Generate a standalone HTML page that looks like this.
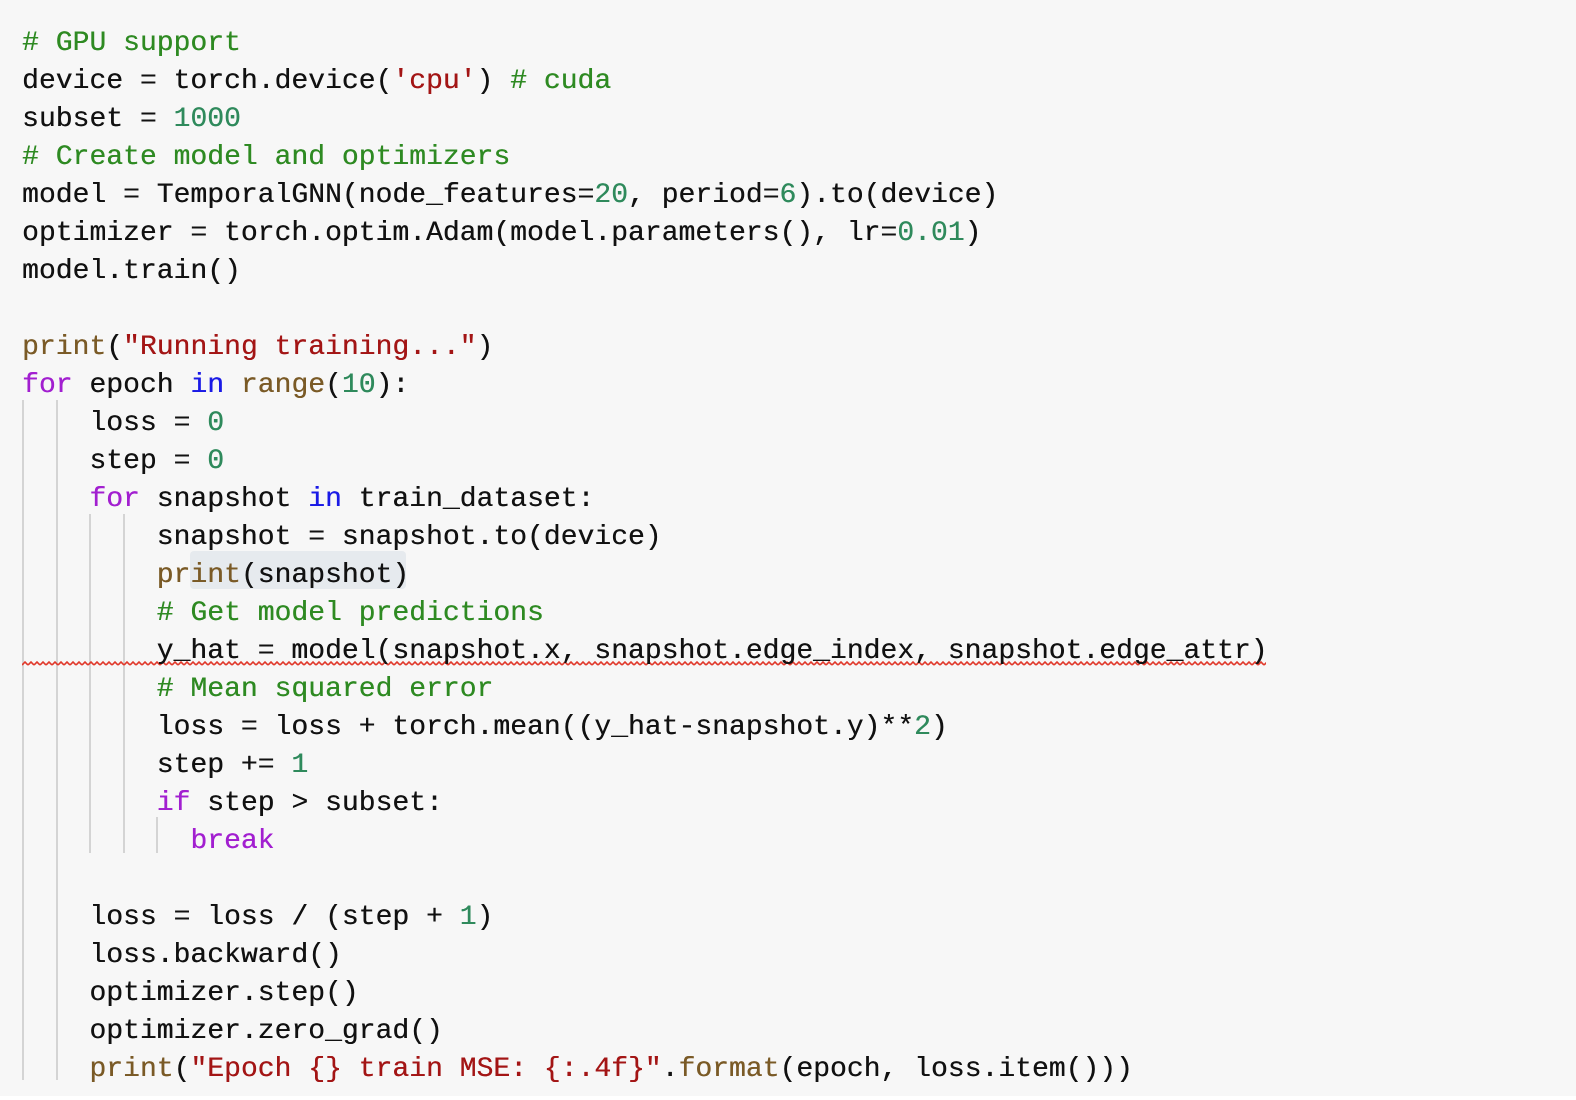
<!DOCTYPE html>
<html><head><meta charset="utf-8"><style>
html,body{margin:0;padding:0;width:1576px;height:1100px;background:#fff;overflow:hidden}
#bg{position:absolute;left:0;top:0;width:1576px;height:1096px;background:#f7f7f7}
pre{position:absolute;left:22px;top:25px;margin:0;font-family:"Liberation Mono",monospace;font-size:28.05px;line-height:38.02px;color:#111;white-space:pre;text-shadow:0.3px 0 0 currentColor}
.c{color:#2e8a22}.s{color:#a31515}.n{color:#2f8a5c}.k{color:#a21fd0}.b{color:#1a1ae6}.f{color:#7a5a26}
.g{position:absolute;width:2px;background:#d4d4d4}
#hl{position:absolute;left:190px;top:551px;width:216px;height:38px;background:#e6eaee;border-radius:4px}
</style></head><body>
<div id="bg"></div>
<div id="hl"></div>
<div class="g" style="left:22px;top:400px;height:680px"></div>
<div class="g" style="left:56px;top:400px;height:680px"></div>
<div class="g" style="left:89px;top:514px;height:339px"></div>
<div class="g" style="left:123px;top:514px;height:339px"></div>
<div class="g" style="left:156px;top:817px;height:36px"></div>
<svg style="position:absolute;left:0;top:0" width="1576" height="1100">
<defs><pattern id="w" x="22" y="660" width="6" height="8" patternUnits="userSpaceOnUse"><path d="M0 5 L3 2 L6 5" fill="none" stroke="#e0392b" stroke-width="1.6"/></pattern></defs>
<rect x="22" y="660" width="1244" height="8" fill="url(#w)"/></svg>
<pre><span class="c"># GPU support</span>
device = torch.device(<span class="s">'cpu'</span>) <span class="c"># cuda</span>
subset = <span class="n">1000</span>
<span class="c"># Create model and optimizers</span>
model = TemporalGNN(node_features=<span class="n">20</span>, period=<span class="n">6</span>).to(device)
optimizer = torch.optim.Adam(model.parameters(), lr=<span class="n">0.01</span>)
model.train()

<span class="f">print</span>(<span class="s">"Running training..."</span>)
<span class="k">for</span> epoch <span class="b">in</span> <span class="f">range</span>(<span class="n">10</span>):
    loss = <span class="n">0</span>
    step = <span class="n">0</span>
    <span class="k">for</span> snapshot <span class="b">in</span> train_dataset:
        snapshot = snapshot.to(device)
        <span class="f">print</span>(snapshot)
        <span class="c"># Get model predictions</span>
        y_hat = model(snapshot.x, snapshot.edge_index, snapshot.edge_attr)
        <span class="c"># Mean squared error</span>
        loss = loss + torch.mean((y_hat-snapshot.y)**<span class="n">2</span>)
        step += <span class="n">1</span>
        <span class="k">if</span> step &gt; subset:
          <span class="k">break</span>

    loss = loss / (step + <span class="n">1</span>)
    loss.backward()
    optimizer.step()
    optimizer.zero_grad()
    <span class="f">print</span>(<span class="s">"Epoch {} train MSE: {:.4f}"</span>.<span class="f">format</span>(epoch, loss.item()))</pre>
</body></html>
